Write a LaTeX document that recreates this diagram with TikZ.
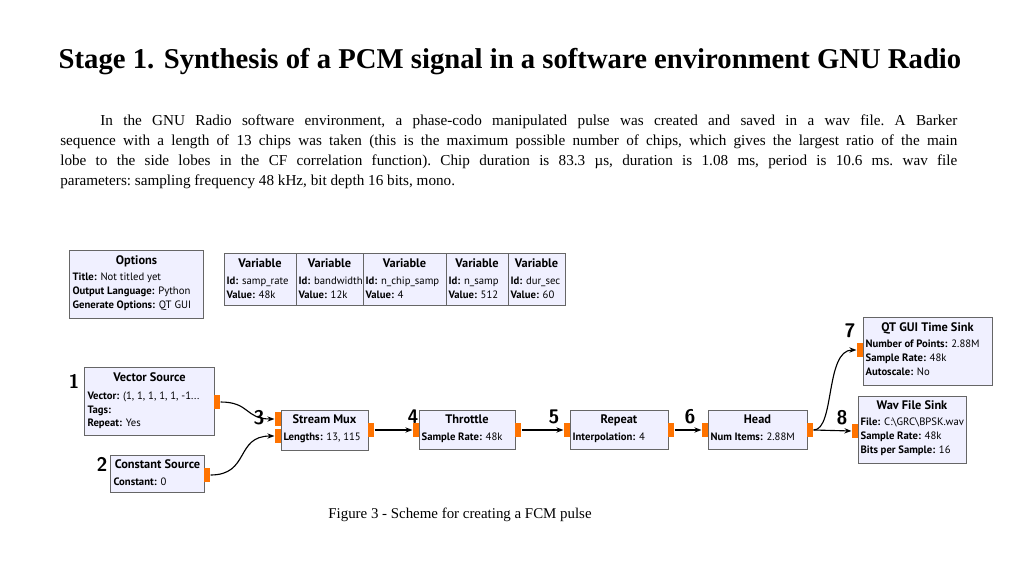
\documentclass[tikz,border=0pt]{standalone}
\usepackage{fontspec}
\setmainfont{Liberation Serif}
\newfontfamily\grcfont{PT Sans}
\usetikzlibrary{arrows.meta}

\tikzset{
  block/.style={draw=gray!80!black, fill=blue!6, line width=0.7pt, inner sep=0},
  port/.style={fill=orange!90!red, minimum width=0.15cm, minimum height=0.35cm, inner sep=0},
  blocktitle/.style={anchor=north, inner sep=3.5pt, font=\grcfont\fontsize{8.8}{10}\selectfont\bfseries},
  blocktext/.style={anchor=north west, inner sep=2pt, align=left, font=\grcfont\fontsize{7.6}{9.95}\selectfont},
  num/.style={font=\sffamily\fontsize{14}{14}\selectfont\bfseries, inner sep=0},
  wire/.style={-{Stealth[length=5pt]}, line width=0.8pt}
}

\begin{document}
\begin{tikzpicture}[x=0.025cm, y=-0.025cm]
\useasboundingbox (0,0) rectangle (1024,576);

% heading and text
\node[font=\bfseries\fontsize{20.4}{22}\selectfont] (title) at (510,62) {Stage 1. Synthesis of a PCM signal in a software environment GNU Radio};
\node[anchor=north west, inner sep=0, text width=22.42cm, align=justify, font=\fontsize{10.8}{14.2}\selectfont\frenchspacing] (para) at (60,115)
 {\hspace*{1cm}In the GNU Radio software environment, a phase-codo manipulated pulse was created and saved in a wav file. A Barker\linebreak sequence with a length of 13 chips was taken (this is the maximum possible number of chips, which gives the largest ratio of the main\linebreak lobe to the side lobes in the CF correlation function). Chip duration is 83.3 \textmu s, duration is 1.08 ms, period is 10.6 ms. wav file\linebreak parameters: sampling frequency 48 kHz, bit depth 16 bits, mono.};
\node[font=\fontsize{10.6}{12}\selectfont] (caption) at (460,515) {Figure 3 - Scheme for creating a FCM pulse};

% options
\node[block, minimum width=3.325cm, minimum height=1.675cm] (options) at (136.5,284.5) {};
\node[blocktitle] at (options.north) {Options};
\node[blocktext] at ([yshift=-0.48cm] options.north west) {\textbf{Title:} Not titled yet\\\textbf{Output Language:} Python\\\textbf{Generate Options:} QT GUI};

% variables
\foreach \xa/\xb/\k/\id/\val in {224/296/1/samp\_rate/48k, 296/363/2/bandwidth/12k, 363/446/3/n\_chip\_samp/4, 446/508/4/n\_samp/512, 508/565/5/dur\_sec/60}{
  \node[block, minimum width={(\xb-\xa)*0.025cm}, minimum height=1.275cm] (var\k) at ({(\xa+\xb)/2},279.5) {};
  \node[blocktitle] at (var\k.north) {Variable};
  \node[blocktext] at ([yshift=-0.52cm] var\k.north west) {\textbf{Id:} \id\\\textbf{Value:} \val};
}

% vector source
\node[block, minimum width=3.225cm, minimum height=1.675cm] (vecsrc) at (149.5,401.5) {};
\node[blocktitle] at (vecsrc.north) {Vector Source};
\node[blocktext] at ([yshift=-0.52cm] vecsrc.north west) {\textbf{Vector:} (1, 1, 1, 1, 1, -1...\\\textbf{Tags:}\\\textbf{Repeat:} Yes};
\node[port, anchor=west] (vecsrc out) at (214,402) {};

% constant source
\node[block, minimum width=2.325cm, minimum height=0.925cm] (constsrc) at (157.5,473.5) {};
\node[blocktitle] at (constsrc.north) {Constant Source};
\node[blocktext] at ([yshift=-0.5cm] constsrc.north west) {\textbf{Constant:} 0};
\node[port, anchor=west] (constsrc out) at (204,475) {};

% stream mux
\node[block, minimum width=2.175cm, minimum height=1cm] (mux) at (324.5,430) {};
\node[blocktitle] at (mux.north) {Stream Mux};
\node[blocktext] at ([yshift=-0.5cm] mux.north west) {\textbf{Lengths:} 13, 115};
\node[port, anchor=east] (mux in1) at (281,419) {};
\node[port, anchor=east] (mux in2) at (281,436) {};
\node[port, anchor=west] (mux out) at (368,430) {};

% throttle
\node[block, minimum width=2.4cm, minimum height=0.975cm] (throttle) at (467,429.5) {};
\node[blocktitle] at (throttle.north) {Throttle};
\node[blocktext] at ([yshift=-0.5cm] throttle.north west) {\textbf{Sample Rate:} 48k};
\node[port, anchor=east] (throttle in) at (419,430) {};
\node[port, anchor=west] (throttle out) at (515,430) {};

% repeat
\node[block, minimum width=2.45cm, minimum height=0.975cm] (repeat) at (619,429.5) {};
\node[blocktitle] at (repeat.north) {Repeat};
\node[blocktext] at ([yshift=-0.5cm] repeat.north west) {\textbf{Interpolation:} 4};
\node[port, anchor=east] (repeat in) at (570,430) {};
\node[port, anchor=west] (repeat out) at (668,430) {};

% head
\node[block, minimum width=2.475cm, minimum height=0.975cm] (head) at (757.5,429.5) {};
\node[blocktitle] at (head.north) {Head};
\node[blocktext] at ([yshift=-0.5cm] head.north west) {\textbf{Num Items:} 2.88M};
\node[port, anchor=east] (head in) at (708,430) {};
\node[port, anchor=west] (head out) at (807,430) {};

% qt gui time sink
\node[block, minimum width=3.225cm, minimum height=1.675cm] (qtsink) at (927.5,351.5) {};
\node[blocktitle] at (qtsink.north) {QT GUI Time Sink};
\node[blocktext] at ([yshift=-0.48cm] qtsink.north west) {\textbf{Number of Points:} 2.88M\\\textbf{Sample Rate:} 48k\\\textbf{Autoscale:} No};
\node[port, anchor=east] (qtsink in) at (863,350) {};

% wav file sink
\node[block, minimum width=2.7cm, minimum height=1.675cm] (wavsink) at (912,429.5) {};
\node[blocktitle] at (wavsink.north) {Wav File Sink};
\node[blocktext] at ([yshift=-0.48cm] wavsink.north west) {\textbf{File:} C:\textbackslash GRC\textbackslash BPSK.wav\\\textbf{Sample Rate:} 48k\\\textbf{Bits per Sample:} 16};
\node[port, anchor=east] (wavsink in) at (858,431) {};

% numbers
\node[num] (n1) at (74,381) {1};
\node[num] (n2) at (102,464) {2};
\node[num] (n3) at (259,418) {3};
\node[num] (n4) at (413,417) {4};
\node[num] (n5) at (554,417) {5};
\node[num] (n6) at (690,417) {6};
\node[num] (n7) at (850,331) {7};
\node[num] (n8) at (842,418) {8};

% connections
\draw[wire] (vecsrc out.east) .. controls (250,402) and (245,419) .. (mux in1.west);
\draw[wire] (constsrc out.east) .. controls (250,475) and (235,436) .. (mux in2.west);
\draw[wire] (mux out) -- (throttle in);
\draw[wire] (throttle out) -- (repeat in);
\draw[wire] (repeat out) -- (head in);
\draw[wire] (head out.east) -- (wavsink in.west);
\draw[wire] (head out.east) .. controls (835,430) and (825,350) .. (qtsink in.west);
\end{tikzpicture}
\end{document}
